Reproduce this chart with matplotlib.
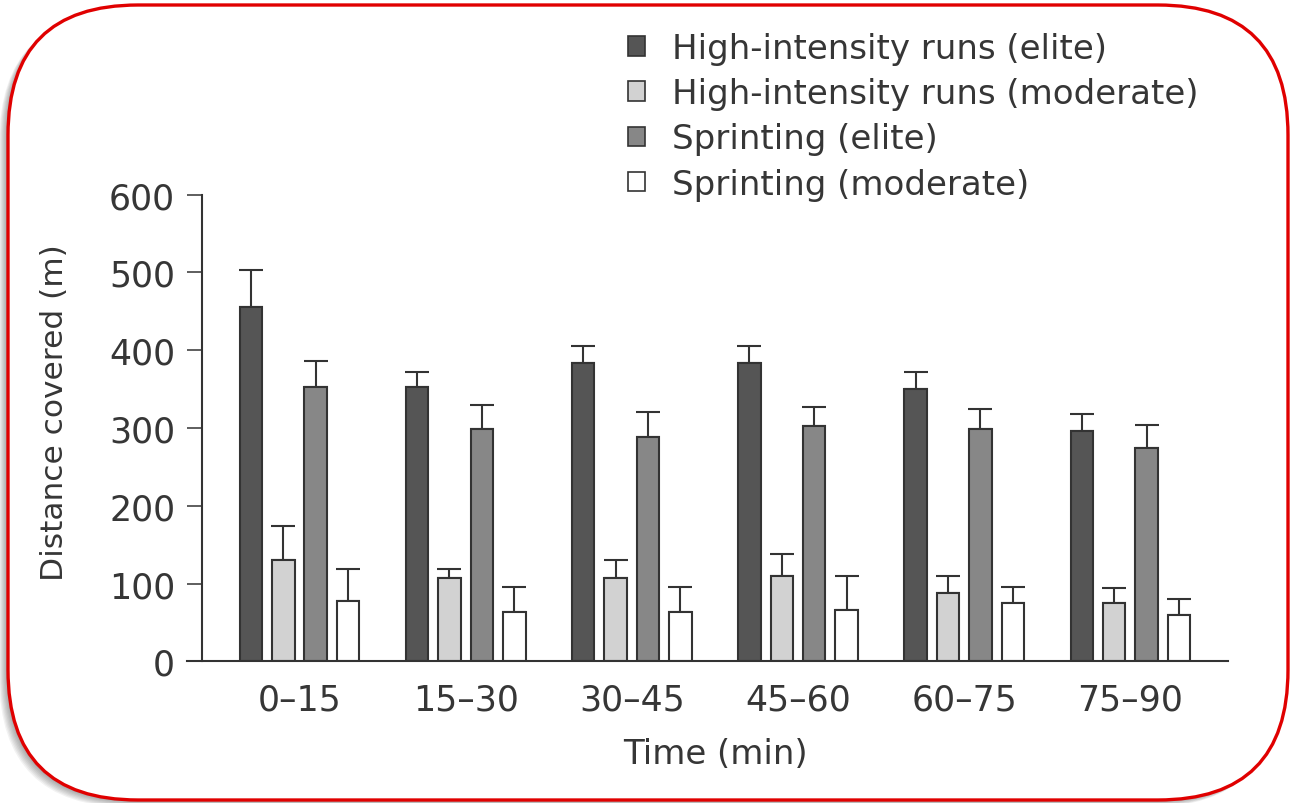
import numpy as np
import matplotlib
matplotlib.use("Agg")
import matplotlib.pyplot as plt
from matplotlib.patches import FancyBboxPatch, Patch

# datos
periodos = ["0\u201315", "15\u201330", "30\u201345", "45\u201360", "60\u201375", "75\u201390"]
series = ["High-intensity runs (elite)", "High-intensity runs (moderate)",
          "Sprinting (elite)", "Sprinting (moderate)"]
hi_elite = [456, 353, 383, 383, 350, 296]
hi_elite_err = [47, 19, 23, 23, 22, 22]
hi_mod = [130, 107, 107, 110, 88, 75]
hi_mod_err = [44, 12, 23, 28, 22, 19]
spr_elite = [353, 299, 288, 302, 299, 274]
spr_elite_err = [33, 30, 33, 25, 25, 30]
spr_mod = [77, 63, 63, 66, 75, 60]
spr_mod_err = [42, 33, 33, 44, 21, 20]

colores = ["#555555", "#d2d2d2", "#878787", "#ffffff"]
borde = "#333333"
texto = "#363636"

W, H = 1290, 804
fig = plt.figure(figsize=(W / 100, H / 100), dpi=100)

# marco rojo redondeado con sombra
bg = fig.add_axes([0, 0, 1, 1], zorder=0)
bg.set_xlim(0, W)
bg.set_ylim(H, 0)
bg.axis("off")
for k in range(8):
    sombra = FancyBboxPatch((8 - 1.1 * (k + 1), 6 + 0.9 * (k + 1)), 1280, 795,
                            boxstyle="round,pad=0,rounding_size=130",
                            facecolor="#000000", edgecolor="none", alpha=0.05)
    bg.add_patch(sombra)
marco = FancyBboxPatch((8, 6), 1280, 795, boxstyle="round,pad=0,rounding_size=130",
                       facecolor="white", edgecolor="#e00000", linewidth=2.4)
bg.add_patch(marco)

ax = fig.add_axes([187 / W, 1 - 662.3 / H, (1228 - 187) / W, (662.3 - 195.7) / H], zorder=1)
ax.patch.set_visible(False)

x = np.arange(len(periodos))
ancho = 0.135
paso = 0.195
valores = [hi_elite, hi_mod, spr_elite, spr_mod]
errores = [hi_elite_err, hi_mod_err, spr_elite_err, spr_mod_err]
for i in range(4):
    err = np.array([np.zeros(len(periodos)), errores[i]])
    ax.bar(x + (i - 1.5) * paso, valores[i], ancho, color=colores[i], edgecolor=borde,
           linewidth=1.5, yerr=err, zorder=2,
           error_kw=dict(ecolor=borde, elinewidth=1.5, capsize=8.5, capthick=1.5, zorder=1))

ax.set_xlim(-0.677, 5.587)
ax.set_ylim(0, 600)
ax.spines["top"].set_visible(False)
ax.spines["right"].set_visible(False)
ax.spines["left"].set_position(("data", -0.587))
ax.spines["left"].set_color(borde)
ax.spines["bottom"].set_color(borde)
ax.spines["left"].set_linewidth(1.5)
ax.spines["bottom"].set_linewidth(1.5)

ax.set_yticks([0, 100, 200, 300, 400, 500, 600])
ax.tick_params(axis="y", direction="out", length=10.8, width=1.1, color=borde,
               labelsize=25, labelcolor=texto, pad=8.5)
ax.set_xticks(x)
ax.set_xticklabels(periodos)
ax.tick_params(axis="x", length=0, labelsize=25, labelcolor=texto, pad=15.5)

ax.set_xlabel("Time (min)", fontsize=24.5, color=texto)
ax.xaxis.set_label_coords(0.508, -0.198)
ax.xaxis.label.set_va("center")
ax.set_ylabel("Distance covered (m)", fontsize=22.5, color=texto)
ax.yaxis.set_label_coords(-0.127, 0.536)
ax.yaxis.label.set_va("center")

manijas = [Patch(facecolor=colores[i], edgecolor=borde, linewidth=1.2) for i in range(4)]
leg = ax.legend(manijas, series, loc="upper left", bbox_to_anchor=(628 / W, 1 - 33 / H),
                bbox_transform=fig.transFigure, frameon=False, fontsize=24.5,
                handlelength=0.5, handleheight=0.5, handletextpad=0.8,
                labelspacing=0.36, borderpad=0, borderaxespad=0)
for t in leg.get_texts():
    t.set_color(texto)

fig.savefig("out.png", dpi=100)
